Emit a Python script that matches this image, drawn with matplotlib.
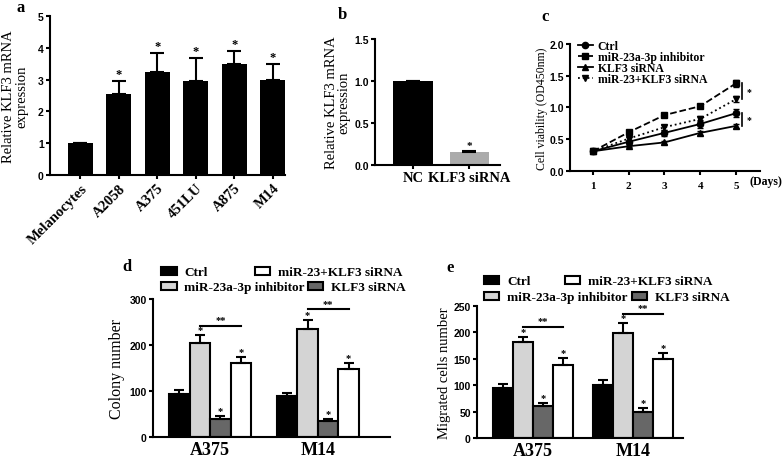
import numpy as np
import matplotlib
matplotlib.use('Agg')
import matplotlib.pyplot as plt

plt.rcParams['font.family'] = 'Liberation Serif'
plt.rcParams['font.weight'] = 'bold'
plt.rcParams['axes.linewidth'] = 1.5

# a : KLF3 in cell lines
cell_lines = ['Melanocytes', 'A2058', 'A375', '451LU', 'A875', 'M14']
klf3_expr = [1.0, 2.55, 3.25, 2.97, 3.5, 3.0]
klf3_err = [0.0, 0.42, 0.6, 0.72, 0.4, 0.5]

# b : knockdown check
sirna_groups = ['NC', 'KLF3 siRNA']
sirna_expr = [1.0, 0.15]
sirna_err = [0.0, 0.02]

# c : CCK-8 viability
days = [1, 2, 3, 4, 5]
via_ctrl = [0.31, 0.46, 0.60, 0.74, 0.91]
via_inhib = [0.31, 0.61, 0.88, 1.02, 1.38]
via_klf3 = [0.31, 0.39, 0.45, 0.60, 0.71]
via_combo = [0.31, 0.51, 0.69, 0.82, 1.13]
err_ctrl = [0.02, 0.03, 0.05, 0.06, 0.06]
err_inhib = [0.02, 0.03, 0.03, 0.03, 0.05]
err_klf3 = [0.02, 0.02, 0.02, 0.03, 0.03]
err_combo = [0.02, 0.03, 0.04, 0.04, 0.05]

# d/e : colony formation and migration
groups = ['A375', 'M14']
treatments = ['Ctrl', 'miR-23a-3p inhibitor', 'KLF3 siRNA', 'miR-23+KLF3 siRNA']
colony_ctrl = [94, 90]
colony_inhib = [205, 235]
colony_klf3 = [40, 35]
colony_combo = [161, 147]
colony_ctrl_err = [9, 6]
colony_inhib_err = [17, 20]
colony_klf3_err = [5, 4]
colony_combo_err = [14, 13]
migr_ctrl = [94, 100]
migr_inhib = [181, 198]
migr_klf3 = [60, 50]
migr_combo = [138, 149]
migr_ctrl_err = [8, 10]
migr_inhib_err = [11, 19]
migr_klf3_err = [6, 7]
migr_combo_err = [13, 12]

bar_colors = ['black', '#d4d4d4', '#676767', 'white']

SANS = 'Liberation Sans'


def prism(ax, yticks, ylabels, ysize=7.5):
    ax.spines['top'].set_visible(False)
    ax.spines['right'].set_visible(False)
    ax.tick_params(width=1.5, length=3, pad=1.5, direction='out')
    ax.set_yticks(yticks)
    ax.set_yticklabels(ylabels, fontfamily=SANS, fontsize=ysize, fontweight='bold')


def up_err(vals, errs):
    return [np.zeros(len(vals)), errs]


fig = plt.figure(figsize=(7.84, 4.6), dpi=100)

# ---- panel a
ax = fig.add_axes([0.0638, 0.6174, 0.2997, 0.3456])
x = np.arange(len(cell_lines))
ax.bar(x, klf3_expr, 0.65, color='black', yerr=up_err(klf3_expr, klf3_err),
       capsize=5, error_kw=dict(lw=1.5, capthick=1.5))
for i in range(1, len(x)):
    ax.text(x[i], klf3_expr[i] + klf3_err[i] + 0.02, '*', ha='center', va='bottom', fontsize=9)
ax.set_xlim(-0.79, 5.32)
ax.set_ylim(0, 5)
prism(ax, range(6), [str(v) for v in range(6)])
ax.set_xticks(x)
ax.set_xticklabels(cell_lines, rotation=45, ha='right', rotation_mode='anchor', fontsize=10.5)
ax.set_ylabel('Relative KLF3 mRNA\nexpression', fontsize=10.5, linespacing=0.95)
ax.yaxis.set_label_coords(-0.094, 0.5)

# ---- panel b
ax = fig.add_axes([0.4783, 0.6391, 0.1594, 0.2739])
x = np.arange(len(sirna_groups))
ax.bar(x, sirna_expr, 0.7, color=['black', '#ababab'], yerr=up_err(sirna_expr, sirna_err),
       capsize=5, error_kw=dict(lw=1.5, capthick=1.5))
ax.text(1, sirna_expr[1] + sirna_err[1] + 0.01, '*', ha='center', va='bottom', fontsize=8)
ax.set_xlim(-0.68, 1.55)
ax.set_ylim(0, 1.5)
prism(ax, [0, 0.5, 1.0, 1.5], ['0.0', '0.5', '1.0', '1.5'])
ax.set_xticks(x)
ax.set_xticklabels(sirna_groups, fontsize=10.5)
ax.set_ylabel('Relative KLF3 mRNA\nexpression', fontsize=10.5, labelpad=3, linespacing=0.95)

# ---- panel c
ax = fig.add_axes([0.727, 0.6261, 0.2423, 0.2761])
series = [
    (via_ctrl, err_ctrl, 'o', '-', 'Ctrl'),
    (via_inhib, err_inhib, 's', '--', 'miR-23a-3p inhibitor'),
    (via_klf3, err_klf3, '^', '-', 'KLF3 siRNA'),
    (via_combo, err_combo, 'v', ':', 'miR-23+KLF3 siRNA'),
]
lines = []
for vals, errs, mk, ls, lab in series:
    eb = ax.errorbar(days, vals, yerr=errs, marker=mk, ls=ls, color='black', lw=1.3,
                     markersize=4.5, capsize=2.5, elinewidth=1.2)
    lines.append(eb[0])
ax.plot([5.17, 5.17], [via_combo[4], via_inhib[4]], color='black', lw=1.2)
ax.plot([5.17, 5.17], [via_klf3[4], via_ctrl[4]], color='black', lw=1.2)
ax.text(5.3, (via_combo[4] + via_inhib[4]) / 2, '*', fontsize=7, va='center')
ax.text(5.3, (via_klf3[4] + via_ctrl[4]) / 2, '*', fontsize=7, va='center')
ax.set_xlim(0.36, 5.67)
ax.set_ylim(0, 2.0)
prism(ax, [0, 0.5, 1.0, 1.5, 2.0], ['0.0', '0.5', '1.0', '1.5', '2.0'])
ax.set_xticks(days)
ax.set_xticklabels([str(d) for d in days], fontsize=8)
ax.tick_params(axis='x', pad=4)
ax.set_ylabel('Cell viability (OD450nm)', fontsize=8.5, labelpad=1)
ax.legend(lines, [s[4] for s in series], loc='upper left', bbox_to_anchor=(0.015, 1.07),
          frameon=False, fontsize=8.5, handlelength=1.3, handletextpad=0.4,
          labelspacing=-0.08, borderaxespad=0)
fig.text(750 / 784, 1 - 182 / 460, '(Days)', fontsize=8.5, va='center')


def grouped(ax, vals, errs, width, bracket, leg_y, colspace):
    x = np.arange(len(groups))
    for k in range(4):
        pos = x + (k - 1.5) * width
        ax.bar(pos, vals[k], width, color=bar_colors[k], edgecolor='black', linewidth=1.5,
               yerr=up_err(vals[k], errs[k]), capsize=3.5,
               error_kw=dict(lw=1.5, capthick=1.5), label=treatments[k])
        if k > 0:
            for j in range(len(x)):
                ax.text(pos[j], vals[k][j] + errs[k][j] + 2, '*', ha='center',
                        va='bottom', fontsize=7.5)
    for j in range(len(x)):
        x0 = x[j] - 0.5 * width
        x1 = x[j] + 1.5 * width
        ax.plot([x0, x1], [bracket[j], bracket[j]], color='black', lw=1.5)
        ax.text((x0 + x1) / 2, bracket[j] + 3, '**', ha='center', va='bottom', fontsize=7.5)
    ax.set_xticks(x)
    ax.set_xticklabels(groups, fontsize=13)
    h, l = ax.get_legend_handles_labels()
    opts = dict(ncol=2, loc='lower left', frameon=False, fontsize=9.5,
                handlelength=1.15, handleheight=0.55, handletextpad=0.6,
                borderaxespad=0, borderpad=0)
    leg1 = ax.legend([h[0], h[3]], [l[0], l[3]], bbox_to_anchor=(0.035, leg_y[0]),
                     columnspacing=colspace[0], **opts)
    ax.add_artist(leg1)
    ax.legend([h[1], h[2]], [l[1], l[2]], bbox_to_anchor=(0.035, leg_y[1]),
              columnspacing=colspace[1], **opts)


# ---- panel d
ax = fig.add_axes([0.1952, 0.0478, 0.3023, 0.3])
grouped(ax, [colony_ctrl, colony_inhib, colony_klf3, colony_combo],
        [colony_ctrl_err, colony_inhib_err, colony_klf3_err, colony_combo_err],
        0.19, [242, 278], (1.15, 1.04), (3.6, 0.2))
ax.set_xlim(-0.53, 1.67)
ax.set_ylim(0, 300)
prism(ax, [0, 100, 200, 300], ['0', '100', '200', '300'])
ax.tick_params(axis='x', length=0, pad=3)
ax.set_ylabel('Colony number', fontsize=11.5, labelpad=3)

# ---- panel e
ax = fig.add_axes([0.6084, 0.0457, 0.2628, 0.287])
grouped(ax, [migr_ctrl, migr_inhib, migr_klf3, migr_combo],
        [migr_ctrl_err, migr_inhib_err, migr_klf3_err, migr_combo_err],
        0.2, [211, 235], (1.14, 1.02), (2.6, 0.3))
ax.set_xlim(-0.56, 1.5)
ax.set_ylim(0, 250)
prism(ax, [0, 50, 100, 150, 200, 250], ['0', '50', '100', '150', '200', '250'])
ax.tick_params(axis='x', length=0, pad=3)
ax.set_ylabel('Migrated cells number', fontsize=10.5, labelpad=2)

for lab, px, py in [('a', 21, 8), ('b', 342, 15), ('c', 545, 17), ('d', 127, 267), ('e', 450, 268)]:
    fig.text(px / 784, 1 - py / 460, lab, fontsize=12, ha='center', va='center')

fig.savefig('out.png', dpi=100)
